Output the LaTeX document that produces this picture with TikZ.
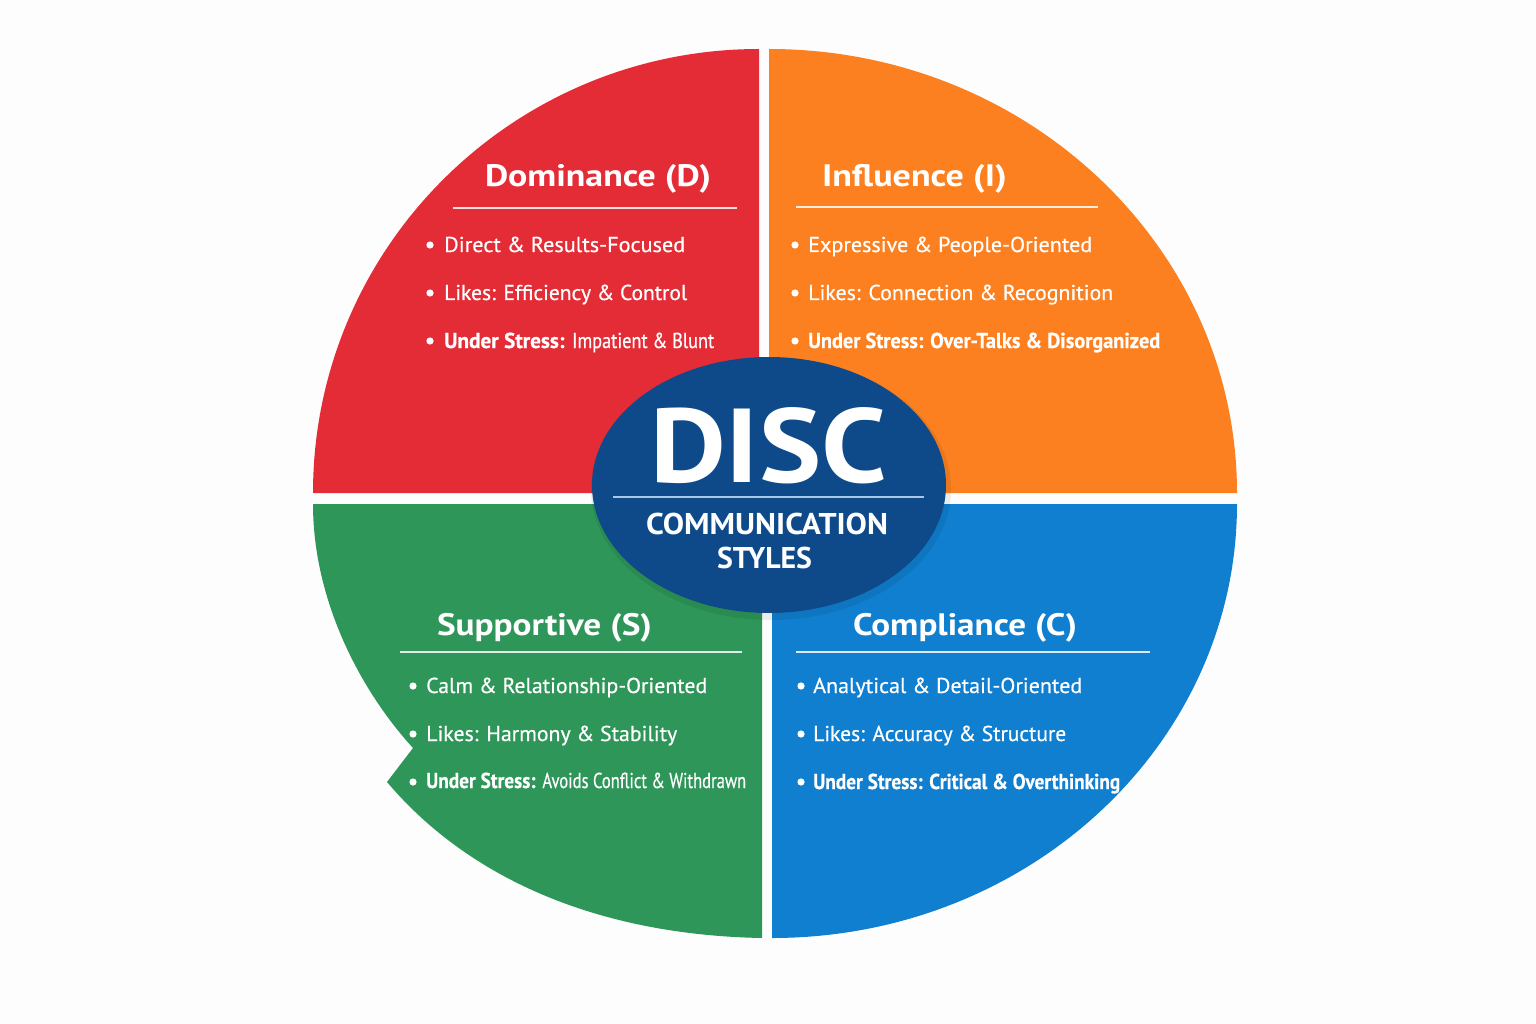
\documentclass[tikz,border=0pt]{standalone}
\usepackage{fontspec}
\setmainfont{PT Sans}
\newfontfamily\medfont[FakeBold=0.5]{PT Sans}
\usetikzlibrary{shapes.geometric}
\definecolor{dred}{RGB}{228,44,55}
\definecolor{dorange}{RGB}{252,128,32}
\definecolor{dgreen}{RGB}{46,150,88}
\definecolor{dblue}{RGB}{16,127,207}
\definecolor{dcore}{RGB}{14,74,138}
\definecolor{dline}{RGB}{170,198,228}
\definecolor{offwhite}{RGB}{253,253,253}
\newcommand{\cond}[1]{\scalebox{0.86}[1]{#1}}
\newcommand{\fitw}[2]{\resizebox{#1pt}{\height}{#2}}
\tikzset{
  quad/.style={draw=none},
  qtitle/.style={text=white, inner sep=0pt, anchor=base, font=\fontsize{31}{36}\selectfont\bfseries},
  qitem/.style={text=white, inner sep=0pt, anchor=base west, font=\fontsize{21.5}{26}\selectfont\medfont},
  qrule/.style={draw=white, opacity=0.85, line width=1.8pt},
  dot/.style={fill=white},
  core text/.style={text=white, inner sep=0pt, anchor=base},
}
\begin{document}
\begin{tikzpicture}[x=1pt,y=-1pt]
\useasboundingbox (0,0) rectangle (1536,1024);
\fill[offwhite] (0,0) rectangle (1536,1024);

% quadrants
\fill[dred,quad] (759,493) -- (313,493) .. controls (313,247.8) and (512.7,49) .. (759,49) -- cycle;
\fill[dorange,quad] (769,493) -- (769,49) .. controls (1027.5,49) and (1237,247.8) .. (1237,493) -- cycle;
\fill[dblue,quad] (772,504) -- (1237,504) .. controls (1237,743.7) and (1028.8,938) .. (772,938) -- cycle;
\fill[dgreen,quad] (762,504) -- (313,504) .. controls (313,600) and (360,690) .. (413,748) -- (387,782) .. controls (470,880) and (600,935) .. (762,938) -- cycle;

% Dominance
\node[qtitle] (dT) at (598,187) {\fitw{226}{Dominance (D)}};
\draw[qrule] (453,208) -- (737,208);
\fill[dot] (430,245) circle (3.6);
\fill[dot] (430,293) circle (3.6);
\fill[dot] (430,341) circle (3.6);
\node[qitem] (d1) at (444,252) {\fitw{241}{Direct \& Results-Focused}};
\node[qitem] (d2) at (444,300) {\fitw{243}{Likes: Efficiency \& Control}};
\node[qitem] (d3) at (444,348) {\fitw{270}{\textbf{Under Stress:} \cond{Impatient \& Blunt}}};

% Influence
\node[qtitle] (iT) at (914.5,187) {\fitw{185}{Influence (I)}};
\draw[qrule] (796,207) -- (1098,207);
\fill[dot] (795,245) circle (3.6);
\fill[dot] (795,293) circle (3.6);
\fill[dot] (795,341) circle (3.6);
\node[qitem] (i1) at (808,252) {\fitw{284}{Expressive \& People-Oriented}};
\node[qitem] (i2) at (808,300) {\fitw{305}{Likes: Connection \& Recognition}};
\node[qitem] (i3) at (808,348) {\fitw{352}{\textbf{Under Stress: Over-Talks \& Disorganized}}};

% Supportive
\node[qtitle] (sT) at (544.5,635) {\fitw{215}{Supportive (S)}};
\draw[qrule] (400,652) -- (742,652);
\fill[dot] (413,686) circle (3.6);
\fill[dot] (413,734) circle (3.6);
\fill[dot] (413,782) circle (3.6);
\node[qitem] (s1) at (426,693) {\fitw{281}{Calm \& Relationship-Oriented}};
\node[qitem] (s2) at (426,741) {\fitw{251}{Likes: Harmony \& Stability}};
\node[qitem] (s3) at (426,788) {\fitw{320}{\textbf{Under Stress:} \cond{Avoids Conflict \& Withdrawn}}};

% Compliance
\node[qtitle] (cT) at (965,635) {\fitw{224}{Compliance (C)}};
\draw[qrule] (796,652) -- (1150,652);
\fill[dot] (801,686) circle (3.6);
\fill[dot] (801,734) circle (3.6);
\fill[dot] (801,782) circle (3.6);
\node[qitem] (c1) at (813,693) {\fitw{269}{Analytical \& Detail-Oriented}};
\node[qitem] (c2) at (813,741) {\fitw{253}{Likes: Accuracy \& Structure}};
\node[qitem] (c3) at (813,789) {\fitw{307}{\textbf{Under Stress: Critical \& Overthinking}}};

% center
\fill[black,opacity=0.07] (771,489) ellipse (180 and 131);
\node[ellipse, fill=dcore, minimum width=354, minimum height=256, inner sep=0pt] (core) at (769,485) {};
\node[core text, font=\fontsize{105}{110}\selectfont\bfseries] (disc) at (768.5,482) {\fitw{237}{DISC}};
\draw[draw=dline, line width=2.5pt] (613,497) -- (924,497);
\node[core text, font=\fontsize{30}{34}\selectfont\bfseries] (comm) at (767,534) {\fitw{242}{COMMUNICATION}};
\node[core text, font=\fontsize{30}{34}\selectfont\bfseries] (styl) at (764.5,568) {\fitw{95}{STYLES}};
\end{tikzpicture}
\end{document}
